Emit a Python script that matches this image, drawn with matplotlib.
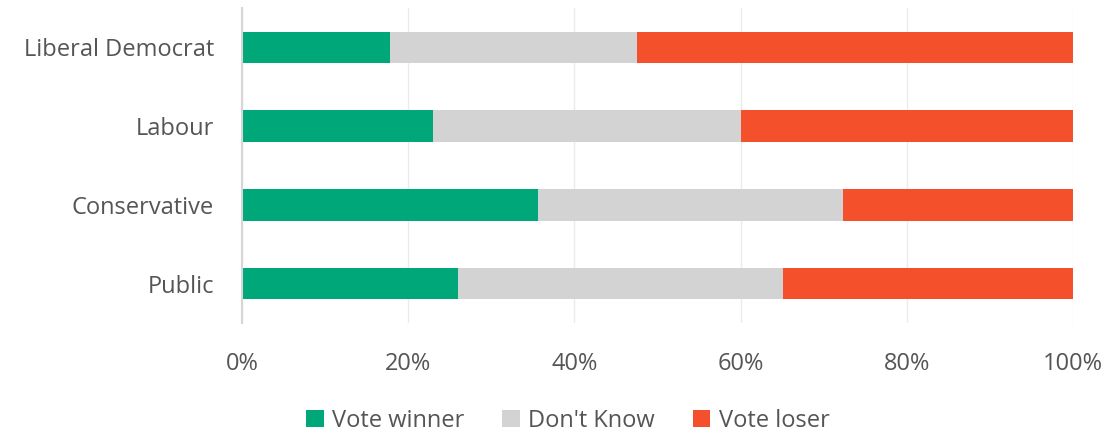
import matplotlib
matplotlib.use("Agg")
import matplotlib.pyplot as plt
from matplotlib.patches import Patch

categories = ["Public", "Conservative", "Labour", "Liberal Democrat"]
vote_winner = [26.0, 35.6, 23.0, 17.8]
dont_know = [39.1, 36.7, 37.0, 29.7]
vote_loser = [34.9, 27.7, 40.0, 52.5]
series_names = ["Vote winner", "Don't Know", "Vote loser"]
tick_values = [0, 20, 40, 60, 80, 100]
tick_labels = ["0%", "20%", "40%", "60%", "80%", "100%"]

colors = ["#00a779", "#d3d3d3", "#f4502b"]
text_color = "#555555"

plt.rcParams["font.family"] = ["Open Sans", "DejaVu Sans"]

fig = plt.figure(figsize=(11.07, 4.33), dpi=100)
ax = fig.add_axes([0.2186, 0.254, 0.7507, 0.7275])

y = list(range(len(categories)))
left = [0.0] * len(categories)
for vals, col, name in zip([vote_winner, dont_know, vote_loser], colors, series_names):
    ax.barh(y, vals, left=left, height=0.4, color=col, edgecolor="none", label=name, zorder=3)
    left = [l + v for l, v in zip(left, vals)]

ax.set_xlim(0, 100)
ax.set_ylim(-0.5, 3.5)
ax.set_xticks(tick_values)
ax.set_xticklabels(tick_labels)
ax.set_yticks(y)
ax.set_yticklabels(categories)
ax.tick_params(axis="both", length=0, labelsize=17, labelcolor=text_color)
ax.tick_params(axis="x", pad=21)
ax.tick_params(axis="y", pad=20)
ax.grid(axis="x", color="#ebebeb", linewidth=1, zorder=0)
for s in ["top", "right", "bottom"]:
    ax.spines[s].set_visible(False)
ax.spines["left"].set_color("#d6d6d6")
ax.spines["left"].set_linewidth(1.5)
ax.spines["left"].set_zorder(4)

handles = [Patch(facecolor=c, edgecolor="none") for c in colors]
leg = fig.legend(handles, series_names, loc="lower center", bbox_to_anchor=(0.513, -0.038),
                 ncol=3, frameon=False, fontsize=17, handlelength=0.75, handleheight=0.75,
                 handletextpad=0.35, columnspacing=1.6, borderpad=0.2)
for t in leg.get_texts():
    t.set_color(text_color)

fig.savefig("out.png", dpi=100)
